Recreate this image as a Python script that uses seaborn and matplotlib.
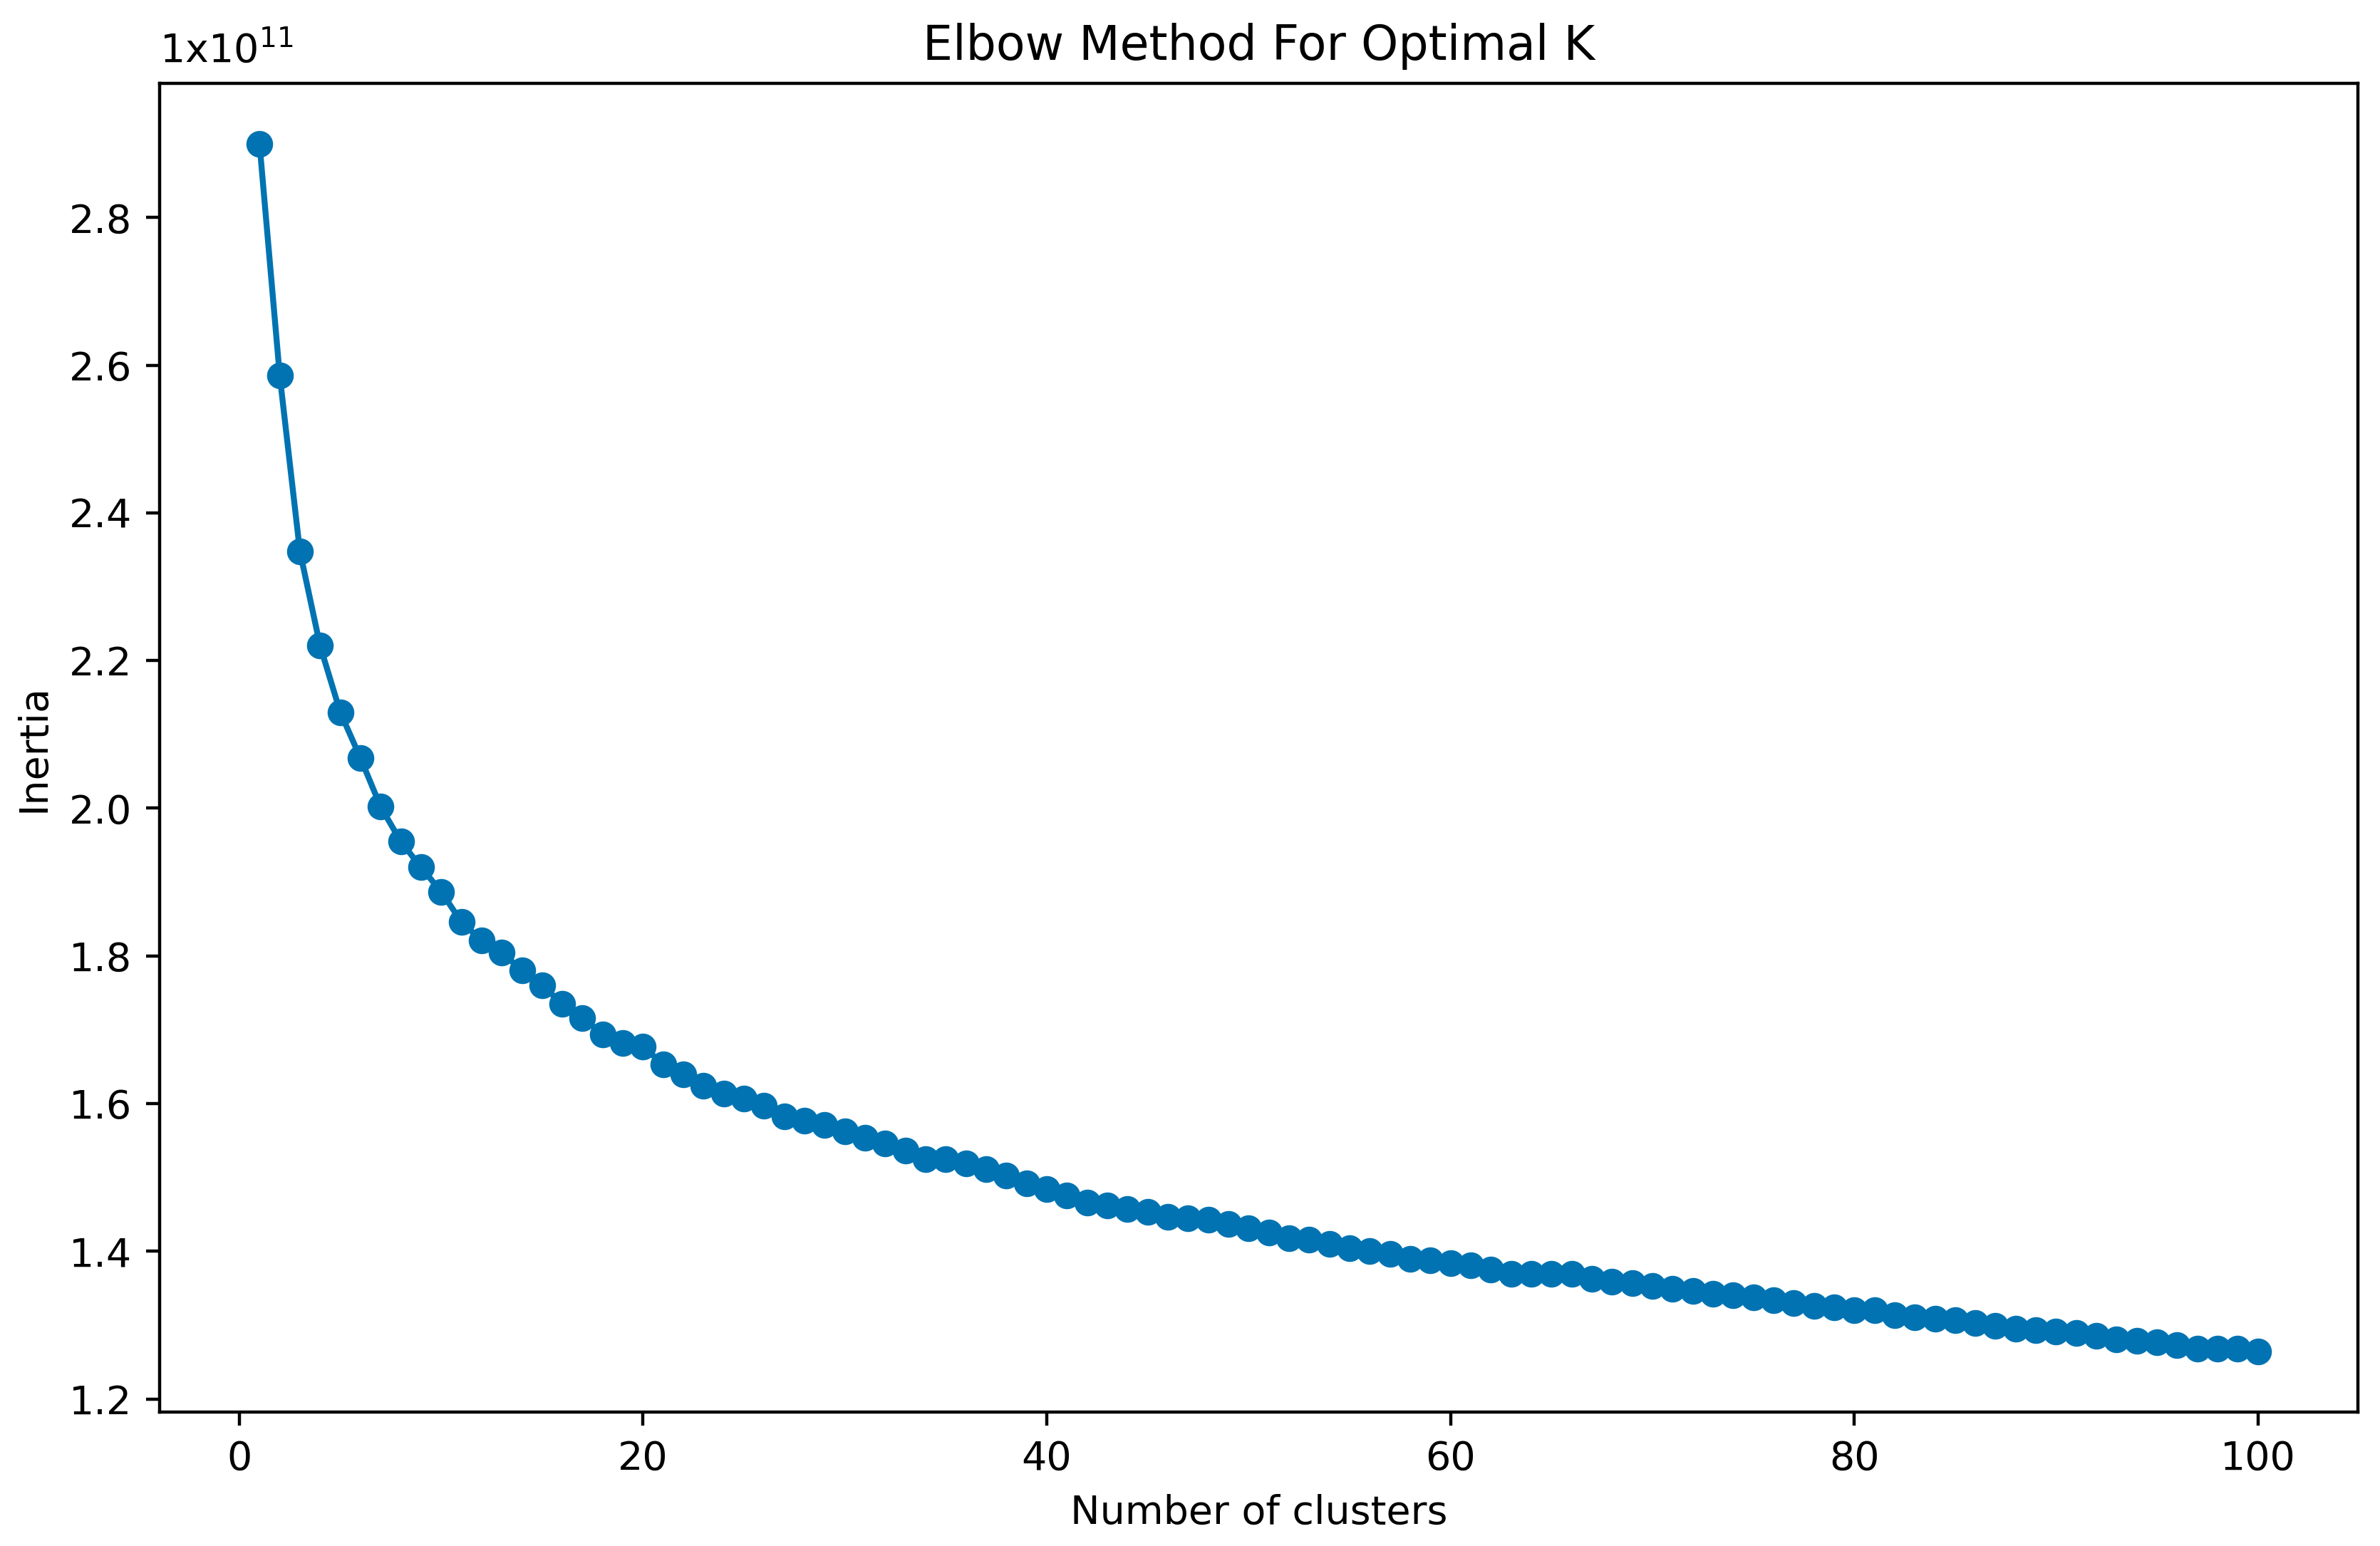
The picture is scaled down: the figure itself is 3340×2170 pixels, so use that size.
import numpy as np
import matplotlib
matplotlib.use("Agg")
import matplotlib.pyplot as plt
import seaborn as sns

# Elbow method: inertia (x 1e11) for k = 1..100
k_values = list(range(1, 101))
inertia_e11 = [
    2.900, 2.586, 2.348, 2.220, 2.130, 2.068, 2.002, 1.955, 1.920, 1.887,
    1.846, 1.821, 1.805, 1.780, 1.760, 1.735, 1.716, 1.694, 1.682, 1.677,
    1.653, 1.640, 1.624, 1.614, 1.607, 1.597, 1.583, 1.577, 1.571, 1.562,
    1.554, 1.546, 1.536, 1.525, 1.525, 1.519, 1.511, 1.503, 1.492, 1.484,
    1.476, 1.466, 1.462, 1.457, 1.453, 1.447, 1.445, 1.443, 1.437, 1.431,
    1.425, 1.418, 1.416, 1.410, 1.404, 1.400, 1.396, 1.390, 1.388, 1.384,
    1.381, 1.375, 1.369, 1.369, 1.369, 1.369, 1.363, 1.359, 1.357, 1.353,
    1.349, 1.346, 1.342, 1.340, 1.338, 1.334, 1.330, 1.326, 1.324, 1.320,
    1.320, 1.313, 1.311, 1.309, 1.307, 1.303, 1.299, 1.295, 1.293, 1.291,
    1.289, 1.285, 1.281, 1.279, 1.277, 1.273, 1.268, 1.268, 1.268, 1.264,
]
inertia = np.array(inertia_e11) * 1e11

sns.set_palette("colorblind")
color = sns.color_palette("colorblind")[0]

fig = plt.figure(figsize=(3341 / 400, 2170 / 400), dpi=400)
ax = fig.add_axes([224 / 3341, 1 - 1982 / 2170, (3309 - 224) / 3341, (1982 - 117) / 2170])

sns.lineplot(x=k_values, y=inertia, marker="o", markersize=6, color=color,
             markeredgecolor=color, linewidth=1.5, ax=ax)

ax.set_title("Elbow Method For Optimal K")
ax.set_xlabel("Number of clusters")
ax.set_ylabel("Inertia")

# offset label written as in the reference
ax.yaxis.get_offset_text().set_visible(False)
ax.text(0, 1.01, r"1x10$^{11}$", transform=ax.transAxes, ha="left", va="bottom")

plt.savefig("out.png", dpi=400)
